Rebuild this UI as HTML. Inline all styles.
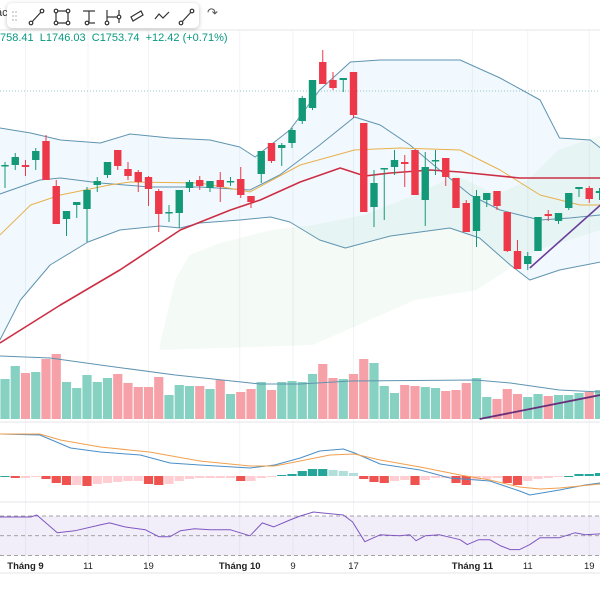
<!DOCTYPE html>
<html><head><meta charset="utf-8"><style>
html,body{margin:0;padding:0;background:#fff;width:600px;height:600px;overflow:hidden;font-family:"Liberation Sans","Noto Sans CJK JP",sans-serif}
#tb{position:absolute;left:7px;top:3px;width:192px;height:25px;background:#fff;border-radius:5px;box-shadow:0 1px 4px rgba(0,0,0,.25)}
#ohlc{position:absolute;left:0;top:32px;font-size:11px;color:#089981;white-space:nowrap}
</style></head><body>
<svg id="chart" width="600" height="600" style="position:absolute;left:0;top:0" xmlns="http://www.w3.org/2000/svg"></svg>
<div style="position:absolute;left:-4px;top:7px;font-size:11px;color:#333">ác</div>
<div id="tb">
<svg width="192" height="25">
<g fill="#ccc"><circle cx="6" cy="9" r="1"/><circle cx="9" cy="9" r="1"/><circle cx="6" cy="13" r="1"/><circle cx="9" cy="13" r="1"/><circle cx="6" cy="17" r="1"/><circle cx="9" cy="17" r="1"/></g>
<g stroke="#333" stroke-width="1.2" fill="#fff">
<g><line x1="24" y1="20" x2="35" y2="8"/><circle cx="24" cy="20" r="1.8"/><circle cx="35" cy="8" r="1.8"/></g>
<g><rect x="49" y="8" width="12" height="12" fill="none"/><circle cx="49" cy="8" r="1.8"/><circle cx="61" cy="8" r="1.8"/><circle cx="49" cy="20" r="1.8"/><circle cx="61" cy="20" r="1.8"/></g>
<g><line x1="76" y1="8" x2="88" y2="8"/><line x1="82" y1="8" x2="82" y2="20"/><line x1="78" y1="20" x2="88" y2="20"/><circle cx="80" cy="20" r="1.8"/></g>
<g><line x1="100" y1="7" x2="100" y2="20"/><line x1="112" y1="7" x2="112" y2="20"/><line x1="100" y1="14" x2="112" y2="14"/><circle cx="100" cy="20" r="1.8"/><circle cx="112" cy="14" r="1.8"/></g>
<g><path d="M124 14 L134 8 L136 12 L126 18Z M126 18 L136 12" fill="none"/></g>
<g><path d="M148 16 L152 11 L156 15 L162 9" fill="none"/></g>
<g><line x1="174" y1="20" x2="185" y2="8"/><circle cx="174" cy="20" r="1.8"/><circle cx="185" cy="8" r="1.8"/></g>
</g></svg></div>
<div style="position:absolute;left:207px;top:5px;font-size:13px;color:#555">↷</div>
<div id="ohlc">758.41 &nbsp;L1746.03 &nbsp;C1753.74 &nbsp;+12.42 (+0.71%)</div>
<script>
const opens=[1734,1735,1735,1740,1759,1714,1681,1695,1691,1715,1725,1750,1731,1728,1723,1709,1687,1687,1712,1720,1712,1720,1718,1721,1704,1726,1757,1752,1757,1779,1792,1838,1820,1820,1828,1777,1693,1731,1733,1738,1750,1700,1739,1742,1722,1697,1669,1700,1709,1688,1649,1636,1649,1686,1679,1692,1711,1712,1707];
const closes=[1735,1743,1733,1749,1720,1676,1689,1698,1710,1719,1738,1734,1724,1718,1711,1686,1688,1710,1718,1714,1719,1713,1719,1705,1698,1749,1739,1755,1770,1802,1820,1816,1812,1822,1785,1688,1717,1732,1740,1736,1705,1733,1740,1723,1692,1668,1704,1707,1694,1649,1631,1644,1683,1684,1687,1707,1713,1701,1709];
const highs=[1738,1747,1740,1752,1765,1720,1689,1698,1713,1723,1738,1750,1738,1730,1724,1711,1695,1710,1720,1724,1719,1728,1723,1733,1704,1749,1757,1757,1772,1804,1820,1850,1828,1822,1828,1777,1730,1732,1750,1745,1750,1748,1750,1742,1722,1700,1710,1707,1709,1688,1660,1648,1683,1690,1687,1707,1713,1714,1712];
const lows=[1712,1730,1724,1730,1720,1676,1664,1682,1658,1708,1722,1730,1720,1708,1694,1668,1678,1672,1708,1710,1708,1698,1714,1702,1692,1717,1737,1734,1752,1776,1790,1816,1810,1808,1782,1688,1673,1680,1725,1713,1705,1674,1725,1714,1692,1668,1653,1693,1690,1648,1631,1630,1649,1679,1676,1690,1703,1697,1700];
const volumes=[40,53,46,47,60,65,37,31,44,37,41,45,36,32,32,42,24,34,33,33,30,39,25,27,30,37,29,37,38,37,45,55,41,40,45,60,56,33,26,34,33,32,31,28,29,36,41,22,20,30,25,22,25,23,24,24,26,27,29];
const macdHist=[0,-2,-2,-1,-3,-7,-9,-9,-10,-8,-7,-6,-5,-5,-8,-9,-8,-5,-3,-2,-2,-2,-2,-5,-5,-2,-1,1,2,5,7,7,6,5,3,-3,-6,-7,-5,-4,-9,-4,-2,-2,-7,-9,-4,-3,-2,-7,-9,-5,-3,-2,-1,0,2,2,3];
const upperIdx=[-0.5,2.5,5.4,9.3,12.2,16.1,20,22.9,24.4,27.8,30.7,33.7,36.6,44.4,48.3,52.2,54.1,57.1,58.1];
const upperVal=[1772,1767,1760,1757,1766,1762,1760,1753,1743,1770,1810,1838,1840,1840,1822,1800,1762,1760,1752];
const innerIdx=[-0.5,3.4,5.4,9.3,14.1,19,23.9,26.8,30.7,34.1,36.6,39.5,42.4,45.4,48.3,50.2,52.2,55.1,58.1];
const innerVal=[1706,1720,1722,1717,1713,1713,1710,1725,1755,1783,1775,1755,1730,1705,1690,1685,1680,1682,1685];
const lowerIdx=[-0.5,1.5,4.4,8.1,11.2,15.1,17.1,19,22.9,25.9,27.8,30.7,33.2,37.6,43.4,46.3,49.3,51.2,54.1,58.1];
const lowerVal=[1560,1600,1635,1658,1670,1674,1672,1677,1680,1683,1678,1660,1652,1664,1672,1662,1635,1620,1630,1638];
const maFastIdx=[-0.5,2.5,5.4,10.2,12.2,19,22.9,23.9,28.8,34.1,38.5,44.4,48.3,52.2,56.1,58.1];
const maFastVal=[1665,1695,1705,1715,1718,1717,1710,1708,1735,1750,1752,1750,1730,1705,1695,1695];
const maSlowIdx=[-0.5,5.4,11.2,17.1,22,24.9,28.8,32.7,35.1,37.6,41.5,44.4,50.2,58.1];
const maSlowVal=[1557,1595,1630,1670,1690,1700,1718,1732,1724,1727,1730,1728,1722,1722];
const cloudTopIdx=[15.1,16.6,18,21,26,30,35,40,44,48,51,54,58.1];
const cloudTopVal=[1555,1620,1645,1657,1670,1675,1685,1705,1725,1705,1720,1750,1765];
const cloudBotIdx=[58.1,52,46,40,30,15.1];
const cloudBotVal=[1670,1650,1610,1600,1555,1550];
const volMaIdx=[-0.5,4.4,9.3,16.6,24.9,28.8,33.7,45.9,49.3,54.1,58.1];
const volMaVal=[63,61,54,44,35,35,38,39,36,29,27];
const macdIdx=[-0.5,3.4,6.4,9.3,13.2,16.1,19,23.9,26.3,28.8,30.7,33,34.1,36.6,40.5,43.4,47.3,50.2,51.2,54.1,56.6,58.1];
const macdVal=[42,41,28,24,21,13,11,8,11,18,25,27,23,12,6,-2,-5,-15,-19,-14,-9,-7];
const signalIdx=[-0.5,3.4,5.4,9.3,14.1,19,23.9,26.3,28.8,31.7,34.1,36.6,40.5,44.4,47.3,50.2,52.2,54.1,58.1];
const signalVal=[42,42,36,29,24,15,10,10,15,21,22,16,9,1,-4,-11,-13,-12,-8];
const rsiIdx=[-0.5,2.5,3.1,5.1,6.8,9.3,10.2,11.7,13.7,15,16.1,17.1,18.5,20,22,23.9,25.1,26.2,27.8,28.8,30.1,31,33,33.9,35.1,36.6,38.5,39.5,40.1,41,42.4,44.4,45.1,46.2,47.3,48.3,49.3,50.2,51.2,52.2,54.1,55.6,56.6,58.1];
const rsiVal=[69,69,71,53,55,61,63,59,56,49,49,55,57,56,56,50,63,59,66,70,74,73,71,64,44,51,50,51,45,50,51,46,41,46,46,40,36,36,41,48,48,53,51,52];
const trendIdx=[51.2,58.1];
const trendVal=[1632,1695];
const volTrendIdx=[46.3,58.1];
const volTrendVal=[0,24];
const xTicks=["Tháng 9","11","19","Tháng 10","9","17","Tháng 11","11","19"];
const xTickIdx=[2,8.1,14,22.9,28.1,34,45.6,51,57];

const NS="http://www.w3.org/2000/svg";
const svg=document.getElementById('chart');
const X=i=>5+i*10.25;
const Y=p=>1900-p;
const VY=v=>419-v;
const MY=v=>476-v;
const RY=r=>516+(70-r)*0.9875;
function mk(tag,attrs,parent){const e=document.createElementNS(NS,tag);for(const k in attrs)e.setAttribute(k,attrs[k]);(parent||svg).appendChild(e);return e;}
function pts(idx,val,fy){return idx.map((i,k)=>X(i).toFixed(1)+','+fy(val[k]).toFixed(1)).join(' ');}

const grid=mk('g',{});


xTickIdx.forEach(i=>{mk('line',{x1:X(i),x2:X(i),y1:30,y2:562,stroke:'#f1f3f6','stroke-width':1},grid);});
[30,422,502,573].forEach(y=>{mk('line',{x1:0,x2:600,y1:y,y2:y,stroke:'#e4e6ea','stroke-width':1},grid);});
const cur=mk('line',{x1:0,x2:600,y1:91,y2:91,stroke:'#9fc7c9','stroke-dasharray':'1 2','stroke-width':1});



const defs=mk('defs',{});
const cp=mk('clipPath',{id:'mainclip'},defs);mk('rect',{x:0,y:45,width:600,height:307},cp);
const main=mk('g',{'clip-path':'url(#mainclip)'});



const bb=mk('polygon',{points:pts(upperIdx,upperVal,Y)+' '+pts(lowerIdx.slice().reverse(),lowerVal.slice().reverse(),Y),fill:'#2196f3','fill-opacity':0.06},main);


const cloud=mk('polygon',{points:pts(cloudTopIdx,cloudTopVal,Y)+' '+pts(cloudBotIdx,cloudBotVal,Y),fill:'#4caf50','fill-opacity':0.06},main);


function line(idx,val,fy,color,w,name,parent){const l=mk('polyline',{points:pts(idx,val,fy),fill:'none',stroke:color,'stroke-width':w,'stroke-linejoin':'round'},parent||svg);return l;}
line(upperIdx,upperVal,Y,'#5f94b0',1,'bollinger-upper',main);
line(innerIdx,innerVal,Y,'#5f94b0',1,'bollinger-inner',main);
line(lowerIdx,lowerVal,Y,'#5f94b0',1,'bollinger-lower',main);
line(maFastIdx,maFastVal,Y,'#e8b04c',1,'ma-fast',main);
line(maSlowIdx,maSlowVal,Y,'#cc2f45',1.6,'ma-slow',main);

const GREEN='#139977',RED='#ec3848';
for(let i=0;i<opens.length;i++){
  const up=closes[i]>=opens[i];const c=up?GREEN:RED;
  const g=mk('g',{},main);
  
  
  mk('line',{x1:X(i),x2:X(i),y1:Y(highs[i]),y2:Y(lows[i]),stroke:c,'stroke-width':1},g);
  const t=Y(Math.max(opens[i],closes[i])),b=Y(Math.min(opens[i],closes[i]));
  mk('rect',{x:X(i)-3.7,y:t,width:7.4,height:Math.max(1.5,b-t),fill:c},g);
}
line(trendIdx,trendVal,Y,'#6a3d9a',1.6,'trend-line',main);

const vg=mk('g',{});


for(let i=0;i<volumes.length;i++){
  const up=closes[i]>=opens[i];
  const r=mk('rect',{x:X(i)-4.6,y:VY(volumes[i]),width:9.2,height:volumes[i],fill:up?'#86d1c2':'#f6a0a8'},vg);
  
  
}
line(volMaIdx,volMaVal,VY,'#5f94b0',1,'volume-ma',vg);
line(volTrendIdx,volTrendVal,VY,'#6a2d7a',1.8,'volume-trend-line',vg);

const mg=mk('g',{});


for(let i=0;i<macdHist.length;i++){
  const v=macdHist[i],p=i>0?macdHist[i-1]:0;
  let c;
  if(v>=0)c=v>=p?'#26a69a':'#b2dfdb';else c=v<p?'#ef5350':'#ffcdd2';
  const y=Math.min(MY(v),MY(0));
  const r=mk('rect',{x:X(i)-4.6,y:y,width:9.2,height:Math.max(1,Math.abs(v)),fill:c},mg);
  
  
}
line(macdIdx,macdVal,MY,'#4a8fc7',1,'macd-line',mg);
line(signalIdx,signalVal,MY,'#f0a050',1,'signal-line',mg);

const rg=mk('g',{});


mk('rect',{x:0,y:RY(70),width:600,height:RY(30)-RY(70),fill:'#7e57c2','fill-opacity':0.1},rg);
[70,50,30].forEach(v=>{mk('line',{x1:0,x2:600,y1:RY(v),y2:RY(v),stroke:'#888','stroke-dasharray':'4 3','stroke-width':0.8},rg);});
line(rsiIdx,rsiVal,RY,'#7e57c2',1,'rsi-line',rg);

const xg=mk('g',{});


xTicks.forEach((t,k)=>{
  const tx=mk('text',{x:X(xTickIdx[k]),y:569,'text-anchor':'middle','font-size':9.5,fill:'#222','font-weight':t.startsWith('Tháng')?'bold':'normal','font-family':'Liberation Sans, sans-serif'},xg);
  tx.textContent=t;
  
  
});
</script>
</body></html>
